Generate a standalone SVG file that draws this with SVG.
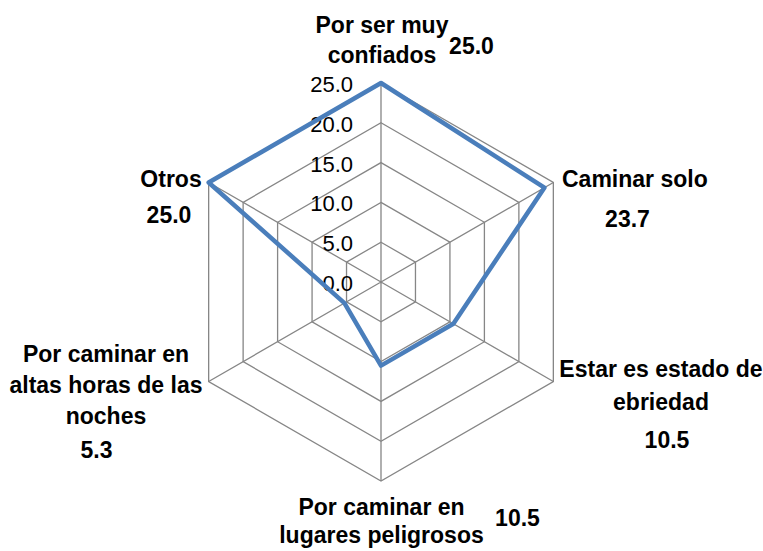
<svg xmlns="http://www.w3.org/2000/svg" width="763" height="551" viewBox="0 0 763 551">
<style>
.grid{fill:none;stroke:#868686;stroke-width:1.3}
.data{fill:none;stroke:#4A7EBB;stroke-width:4.5;stroke-linejoin:round}
.tick{font-family:"Liberation Sans",Arial,sans-serif;font-size:22px;fill:#000;text-anchor:end}
.lbl{font-family:"Liberation Sans",Arial,sans-serif;font-size:23px;font-weight:bold;fill:#000}
.m{text-anchor:middle}
</style>
<rect width="763" height="551" fill="#ffffff"/>
<g id="grid">
<polygon class="grid" points="381,242.2 415.47,262.1 415.47,301.9 381,321.8 346.53,301.9 346.53,262.1"/>
<polygon class="grid" points="381,202.4 449.93,242.2 449.93,321.8 381,361.6 312.07,321.8 312.07,242.2"/>
<polygon class="grid" points="381,162.6 484.4,222.3 484.4,341.7 381,401.4 277.6,341.7 277.6,222.3"/>
<polygon class="grid" points="381,122.8 518.87,202.4 518.87,361.6 381,441.2 243.13,361.6 243.13,202.4"/>
<polygon class="grid" points="381,83 553.34,182.5 553.34,381.5 381,481 208.66,381.5 208.66,182.5"/>
<path class="grid" d="M381,282V83M381,282L553.34,182.5M381,282L553.34,381.5M381,282V481M381,282L208.66,381.5M381,282L208.66,182.5"/>
</g>
<g id="ticks">
<text class="tick" x="353" y="92">25.0</text>
<text class="tick" x="353" y="131.8">20.0</text>
<text class="tick" x="353" y="171.6">15.0</text>
<text class="tick" x="353" y="211.4">10.0</text>
<text class="tick" x="353" y="251.2">5.0</text>
<text class="tick" x="353" y="291">0.0</text>
</g>
<g id="series">
<polygon class="data" points="381,83 544.38,187.67 453.38,323.79 381,365.58 344.46,303.09 208.66,182.5"/>
</g>
<g id="node-confiados">
<text class="lbl m" x="382" y="33">Por ser muy</text>
<text class="lbl m" x="382" y="63">confiados</text>
<text class="lbl m" x="471.5" y="54">25.0</text>
</g>
<g id="node-caminar-solo">
<text class="lbl" x="562" y="187">Caminar solo</text>
<text class="lbl m" x="627.5" y="227">23.7</text>
</g>
<g id="node-ebriedad">
<text class="lbl m" x="661" y="377">Estar es estado de</text>
<text class="lbl m" x="661" y="410">ebriedad</text>
<text class="lbl m" x="667" y="448">10.5</text>
</g>
<g id="node-peligrosos">
<text class="lbl m" x="381.5" y="515">Por caminar en</text>
<text class="lbl m" x="381.5" y="543">lugares peligrosos</text>
<text class="lbl m" x="517.5" y="526">10.5</text>
</g>
<g id="node-noches">
<text class="lbl m" x="106" y="362">Por caminar en</text>
<text class="lbl m" x="106" y="393">altas horas de las</text>
<text class="lbl m" x="106" y="424">noches</text>
<text class="lbl m" x="96.5" y="458">5.3</text>
</g>
<g id="node-otros">
<text class="lbl m" x="171" y="187">Otros</text>
<text class="lbl m" x="169" y="223">25.0</text>
</g>
</svg>
